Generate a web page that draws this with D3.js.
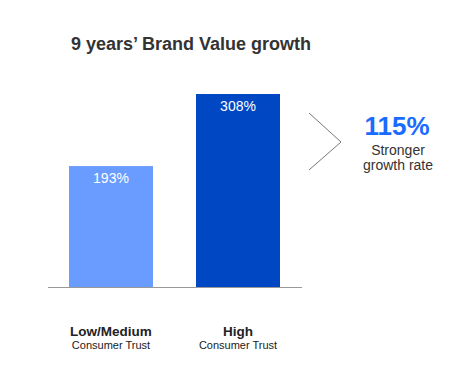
<!DOCTYPE html>
<html>
<head>
<meta charset="utf-8">
<script src="https://cdn.jsdelivr.net/npm/d3@7"></script>
<style>
  body { margin: 0; background: #fff; }
  text { font-family: "Liberation Sans", Arial, sans-serif; }
</style>
</head>
<body>
<div id="chart"></div>
<script>
// data
const categories = ["Low/Medium", "High"];
const subLabels = ["Consumer Trust", "Consumer Trust"];
const values = [193, 308];
const barColors = ["#6a9cff", "#0047c4"];
const title = "9 years\u2019 Brand Value growth";
const calloutValue = "115%";
const calloutText = ["Stronger", "growth rate"];

const width = 450, height = 373;

const svg = d3.select("#chart")
    .append("svg")
    .attr("width", width)
    .attr("height", height);

// title
svg.append("text")
    .attr("x", 71)
    .attr("y", 50)
    .attr("font-size", "18px")
    .attr("font-weight", "bold")
    .attr("fill", "#333")
    .text(title);

const x = d3.scaleBand()
    .domain(categories)
    .range([69, 280])
    .paddingInner(0.3386)
    .paddingOuter(0);

const y = d3.scaleLinear()
    .domain([0, 308])
    .range([287, 94]);

// bars
svg.selectAll(".bar")
    .data(values)
    .enter()
    .append("rect")
    .attr("class", "bar")
    .attr("x", (d, i) => x(categories[i]))
    .attr("y", d => y(d))
    .attr("width", x.bandwidth())
    .attr("height", d => y(0) - y(d))
    .attr("fill", (d, i) => barColors[i]);

// value labels
svg.selectAll(".val")
    .data(values)
    .enter()
    .append("text")
    .attr("class", "val")
    .attr("x", (d, i) => x(categories[i]) + x.bandwidth() / 2)
    .attr("y", d => y(d) + 17)
    .attr("text-anchor", "middle")
    .attr("font-size", "14px")
    .attr("fill", "#fff")
    .text(d => d + "%");

// baseline
svg.append("line")
    .attr("x1", 48).attr("x2", 302)
    .attr("y1", y(0) + 0.5).attr("y2", y(0) + 0.5)
    .attr("stroke", "#999")
    .attr("stroke-width", 1);

// category labels
categories.forEach((c, i) => {
    const cx = x(c) + x.bandwidth() / 2;
    svg.append("text")
        .attr("x", cx).attr("y", 336)
        .attr("text-anchor", "middle")
        .attr("font-size", "13.5px")
        .attr("font-weight", "bold")
        .attr("fill", "#222")
        .text(c);
    svg.append("text")
        .attr("x", cx).attr("y", 349)
        .attr("text-anchor", "middle")
        .attr("font-size", "11px")
        .attr("fill", "#222")
        .text(subLabels[i]);
});

// chevron
svg.append("path")
    .attr("d", "M309,113 L341,142 L309,170")
    .attr("fill", "none")
    .attr("stroke", "#777")
    .attr("stroke-width", 1);

// callout
svg.append("text")
    .attr("x", 397).attr("y", 135)
    .attr("text-anchor", "middle")
    .attr("font-size", "26px")
    .attr("font-weight", "bold")
    .attr("fill", "#1a6bff")
    .text(calloutValue);

calloutText.forEach((t, i) => {
    svg.append("text")
        .attr("x", 398).attr("y", 155 + i * 15)
        .attr("text-anchor", "middle")
        .attr("font-size", "14px")
        .attr("fill", "#333")
        .text(t);
});
</script>
</body>
</html>
